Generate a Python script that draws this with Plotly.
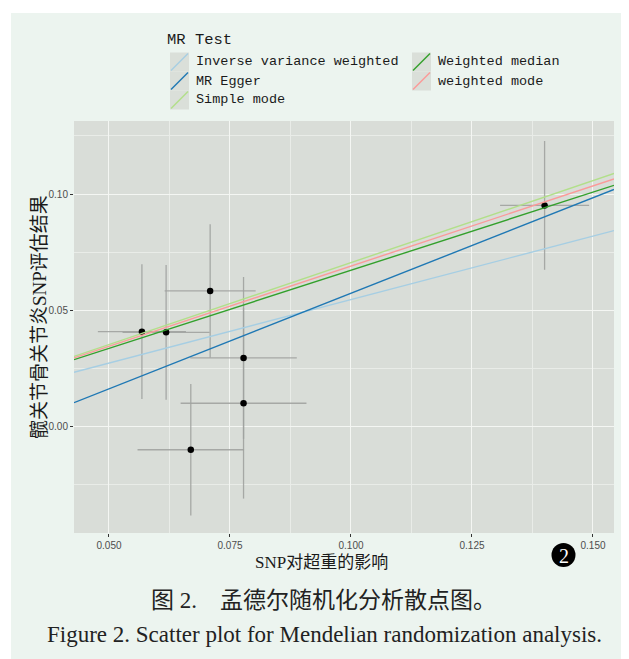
import plotly.graph_objects as go

# ---------------- data ----------------
snp_exposure = [0.0568, 0.0618, 0.0709, 0.0778, 0.0778, 0.0669, 0.1400]
snp_outcome = [0.0408, 0.0405, 0.0583, 0.0295, 0.0100, -0.0100, 0.0951]
se_exposure = [0.0091, 0.0090, 0.0094, 0.0110, 0.0130, 0.0110, 0.0092]
se_outcome = [0.0290, 0.0290, 0.0287, 0.0348, 0.0410, 0.0283, 0.0277]

methods = ["Inverse variance weighted", "MR Egger", "Simple mode",
           "Weighted median", "weighted mode"]
slopes = [0.546, 0.822, 0.705, 0.672, 0.690]
intercepts = [0.0, -0.0249, 0.0, 0.0, 0.0]
method_colors = ["#A6CEE3", "#1F78B4", "#B2DF8A", "#33A02C", "#FB9A99"]

x_range = [0.04277, 0.15434]
y_range = [-0.0458, 0.1314]
x_ticks = [0.050, 0.075, 0.100, 0.125, 0.150]
y_ticks = [0.00, 0.05, 0.10]

# ---------------- layout helpers ----------------
# page has an 8px body margin, so the figure is 8px smaller and
# every position below is given in page pixels
OFF = 8
W, H = 629 - OFF, 659 - OFF
L, R, T, B = 74 - OFF, 15, 121 - OFF, 126
PW, PH = W - L - R, H - T - B


def px(x):
    return (x - OFF - L) / PW


def py(y):
    return (H - B - (y - OFF)) / PH


fig = go.Figure()

# error bars + points
fig.add_trace(go.Scatter(
    x=snp_exposure, y=snp_outcome, mode="markers",
    marker=dict(color="black", size=6.5),
    error_x=dict(type="data", array=se_exposure, width=0,
                 color="rgba(160,162,160,0.9)", thickness=1.3),
    error_y=dict(type="data", array=se_outcome, width=0,
                 color="rgba(160,162,160,0.9)", thickness=1.3),
    showlegend=False, hoverinfo="skip",
))

# regression lines
for name, b, a, c in zip(methods, slopes, intercepts, method_colors):
    fig.add_trace(go.Scatter(
        x=x_range, y=[a + b * x_range[0], a + b * x_range[1]],
        mode="lines", line=dict(color=c, width=1.4),
        name=name, showlegend=False,
    ))

PAGE_BG = "#ecf4ef"
PLOT_BG = "#d9ddd8"

shapes = []
# white margins at top and left
shapes.append(dict(type="rect", xref="paper", yref="paper",
                   x0=px(0), x1=px(700), y0=py(0), y1=py(13),
                   fillcolor="white", line=dict(width=0), layer="below"))
shapes.append(dict(type="rect", xref="paper", yref="paper",
                   x0=px(0), x1=px(11), y0=py(700), y1=py(0),
                   fillcolor="white", line=dict(width=0), layer="below"))

annotations = []
legend_font = dict(family="Liberation Mono, Noto Sans CJK SC", size=13.5, color="#1a1a1a")

annotations.append(dict(text="MR Test", x=px(165), y=py(40), xref="paper", yref="paper",
                        xanchor="left", yanchor="middle", showarrow=False,
                        font=dict(family="Liberation Mono, Noto Sans CJK SC", size=15.5, color="#1a1a1a")))

# legend layout: (key x-left, row centre y)
legend_pos = [(170, 62), (170, 81), (170, 100), (412, 62), (412, 81)]
for name, c, (kx, ky) in zip(methods, method_colors, legend_pos):
    shapes.append(dict(type="rect", xref="paper", yref="paper",
                       x0=px(kx), x1=px(kx + 19), y0=py(ky + 9.5), y1=py(ky - 9.5),
                       fillcolor="#dadfd9", line=dict(width=0)))
    shapes.append(dict(type="line", xref="paper", yref="paper",
                       x0=px(kx + 1), x1=px(kx + 18), y0=py(ky + 8.5), y1=py(ky - 8.5),
                       line=dict(color=c, width=1.4)))
    annotations.append(dict(text=name, x=px(kx + 24), y=py(ky), xref="paper", yref="paper",
                            xanchor="left", yanchor="middle", showarrow=False,
                            font=legend_font))

# axis titles
annotations.append(dict(text="SNP对超重的影响", x=px(321), y=py(562), xref="paper", yref="paper",
                        xanchor="center", yanchor="middle", showarrow=False,
                        font=dict(family="Liberation Serif, Noto Sans CJK SC", size=17, color="#1a1a1a")))
annotations.append(dict(text="髋关节骨关节炎SNP评估结果", x=px(39), y=py(317), xref="paper", yref="paper",
                        xanchor="center", yanchor="middle", showarrow=False, textangle=-90,
                        font=dict(family="Liberation Serif, Noto Sans CJK SC", size=19, color="#1a1a1a")))

# captions
annotations.append(dict(text="图 2.　孟德尔随机化分析散点图。", x=px(323), y=py(600), xref="paper", yref="paper",
                        xanchor="center", yanchor="middle", showarrow=False,
                        font=dict(family="Liberation Serif, Noto Sans CJK SC", size=23, color="#222222")))
annotations.append(dict(text="Figure 2. Scatter plot for Mendelian randomization analysis.",
                        x=px(324), y=py(634), xref="paper", yref="paper",
                        xanchor="center", yanchor="middle", showarrow=False,
                        font=dict(family="Liberation Serif", size=23, color="#222222")))

# black numbered badge
shapes.append(dict(type="circle", xref="paper", yref="paper",
                   x0=px(551.5), x1=px(575.5), y0=py(567), y1=py(543),
                   fillcolor="black", line=dict(width=0)))
annotations.append(dict(text="2", x=px(563.5), y=py(555.5), xref="paper", yref="paper",
                        xanchor="center", yanchor="middle", showarrow=False,
                        font=dict(family="Liberation Serif", size=20, color="white")))

axis_common = dict(
    showgrid=True, gridcolor="#f4f6f3", gridwidth=1.2,
    zeroline=False, showline=False,
    ticks="outside", ticklen=3, tickwidth=1, tickcolor="#333333",
    tickfont=dict(family="Liberation Sans", size=10, color="#4d4d4d"),
    minor=dict(showgrid=True, gridcolor="#e9ece8", gridwidth=0.6, ticks=""),
)

fig.update_layout(
    width=W, height=H, autosize=False,
    margin=dict(l=L, r=R, t=T, b=B, pad=0),
    paper_bgcolor=PAGE_BG, plot_bgcolor=PLOT_BG,
    showlegend=False,
    xaxis=dict(range=x_range, tickvals=x_ticks, tickformat=".3f", **axis_common),
    yaxis=dict(range=y_range, tickvals=y_ticks, tickformat=".2f", **axis_common),
    shapes=shapes, annotations=annotations,
)
fig.update_xaxes(minor=dict(tickvals=[0.0625, 0.0875, 0.1125, 0.1375]))
fig.update_yaxes(minor=dict(tickvals=[-0.025, 0.025, 0.075, 0.125]))

fig.write_html("out.html")
